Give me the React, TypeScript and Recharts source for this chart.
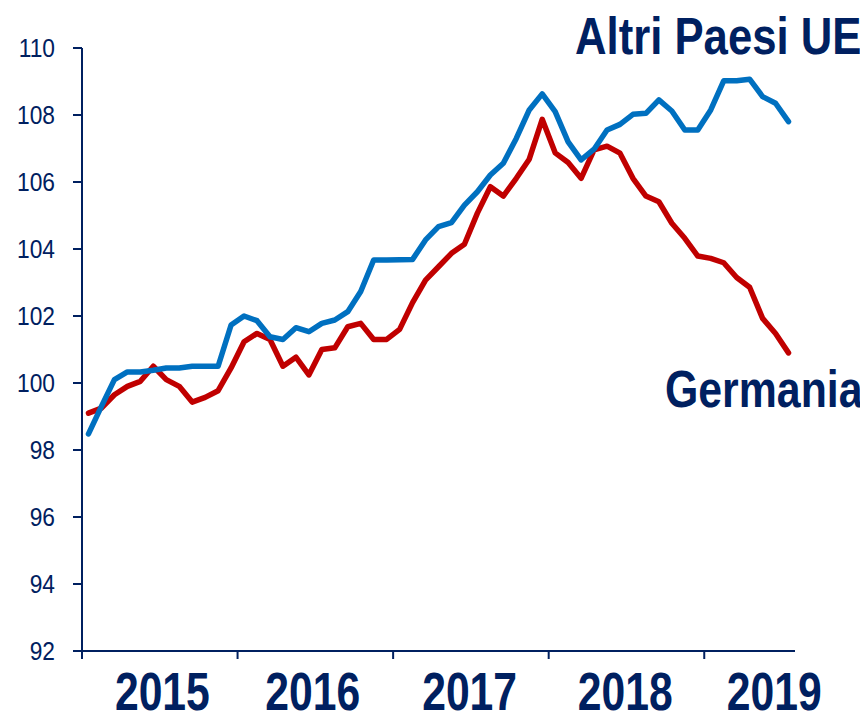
import React from "react";
import { LineChart, Line, XAxis, YAxis } from "recharts";

const months: string[] = [
  "2015-01","2015-02","2015-03","2015-04","2015-05","2015-06","2015-07","2015-08","2015-09","2015-10","2015-11","2015-12",
  "2016-01","2016-02","2016-03","2016-04","2016-05","2016-06","2016-07","2016-08","2016-09","2016-10","2016-11","2016-12",
  "2017-01","2017-02","2017-03","2017-04","2017-05","2017-06","2017-07","2017-08","2017-09","2017-10","2017-11","2017-12",
  "2018-01","2018-02","2018-03","2018-04","2018-05","2018-06","2018-07","2018-08","2018-09","2018-10","2018-11","2018-12",
  "2019-01","2019-02","2019-03","2019-04","2019-05","2019-06","2019-07",
];

const altriPaesiUE: number[] = [
  98.48, 99.3, 100.1, 100.33, 100.33, 100.38, 100.45, 100.45, 100.5, 100.5, 100.5, 101.73,
  102.0, 101.86, 101.38, 101.3, 101.65, 101.53, 101.78, 101.88, 102.13, 102.73, 103.67, 103.67,
  103.68, 103.69, 104.27, 104.67, 104.79, 105.31, 105.71, 106.21, 106.56, 107.3, 108.15, 108.63,
  108.1, 107.2, 106.66, 106.98, 107.55, 107.72, 108.02, 108.05, 108.45, 108.12, 107.55, 107.55,
  108.15, 109.02, 109.02, 109.07, 108.55, 108.35, 107.8,
];

const germania: number[] = [
  99.1, 99.25, 99.65, 99.9, 100.05, 100.5, 100.1, 99.9, 99.43, 99.57, 99.77, 100.45,
  101.23, 101.48, 101.3, 100.5, 100.77, 100.24, 101.0, 101.05, 101.68, 101.78, 101.3, 101.3,
  101.6, 102.4, 103.07, 103.47, 103.87, 104.14, 105.07, 105.86, 105.58, 106.11, 106.68, 107.87,
  106.87, 106.58, 106.11, 106.96, 107.07, 106.86, 106.11, 105.58, 105.41, 104.77, 104.32, 103.79,
  103.72, 103.59, 103.15, 102.86, 101.93, 101.48, 100.9,
];

const yTicks: number[] = [92, 94, 96, 98, 100, 102, 104, 106, 108, 110];
const yearBoundaries: number[] = [0, 12, 24, 36, 48];
const yearLabels: string[] = ["2015", "2016", "2017", "2018", "2019"];
const yearLabelPositions: number[] = [6.2, 17.8, 29.9, 41.9, 53.4];

const NAVY = "#002060";
const BLUE = "#0070C0";
const RED = "#C00000";

const data = months.map((m, i) => ({
  month: m,
  x: i + 0.5,
  altri: altriPaesiUE[i],
  germania: germania[i],
}));

const YTick = (props: any) => {
  const { x, y, payload } = props;
  return (
    <text
      transform={`translate(${x},${y}) scale(0.91,1)`}
      textAnchor="end"
      dy="0.36em"
      fill={NAVY}
      fontSize={25}
      fontFamily="'Liberation Sans', Arial, sans-serif"
    >
      {payload.value}
    </text>
  );
};

const EmptyTick = () => <g />;

const YearTick = (props: any) => {
  const { x, y, payload } = props;
  const idx = yearLabelPositions.indexOf(payload.value);
  return (
    <text
      transform={`translate(${x},${y + 51}) scale(0.79,1)`}
      textAnchor="middle"
      fill={NAVY}
      fontSize={54}
      fontWeight="bold"
      fontFamily="'Liberation Sans', Arial, sans-serif"
    >
      {yearLabels[idx]}
    </text>
  );
};

export default function App() {
  return (
    <div style={{ position: "relative", width: 852, height: 707 }}>
      <LineChart
        width={852}
        height={707}
        data={data}
        margin={{ top: 40, right: 65, left: 0, bottom: 0 }}
      >
        <XAxis
          xAxisId="a"
          dataKey="x"
          type="number"
          domain={[0, 55]}
          ticks={yearBoundaries}
          interval={0}
          tick={<EmptyTick />}
          tickSize={8}
          height={8}
          axisLine={{ stroke: NAVY, strokeWidth: 2 }}
          tickLine={{ stroke: NAVY, strokeWidth: 2 }}
          allowDataOverflow
        />
        <XAxis
          xAxisId="b"
          dataKey="x"
          type="number"
          domain={[0, 55]}
          ticks={yearLabelPositions}
          interval={0}
          tick={<YearTick />}
          tickSize={0}
          tickMargin={0}
          height={56}
          axisLine={false}
          tickLine={false}
          allowDataOverflow
        />
        <YAxis
          domain={[92, 110]}
          ticks={yTicks}
          interval={0}
          width={74}
          tickSize={9}
          tickMargin={18}
          tick={<YTick />}
          axisLine={{ stroke: NAVY, strokeWidth: 2 }}
          tickLine={{ stroke: NAVY, strokeWidth: 2 }}
        />
        <Line
          xAxisId="a"
          type="linear"
          dataKey="germania"
          stroke={RED}
          strokeWidth={5.5}
          strokeLinecap="round"
          strokeLinejoin="round"
          dot={false}
          isAnimationActive={false}
        />
        <Line
          xAxisId="a"
          type="linear"
          dataKey="altri"
          stroke={BLUE}
          strokeWidth={5.5}
          strokeLinecap="round"
          strokeLinejoin="round"
          dot={false}
          isAnimationActive={false}
        />
      </LineChart>
      <svg
        width={860}
        height={707}
        overflow="visible"
        style={{ position: "absolute", left: 0, top: 0, pointerEvents: "none", overflow: "visible" }}
      >
        <text
          transform="translate(567,46.3) scale(0.84,1)"
          fill={NAVY}
          fontSize={52}
          fontWeight="bold"
          fontFamily="'Liberation Sans', Arial, sans-serif"
        >
          Altri Paesi UE
        </text>
        <text
          transform="translate(657,398.7) scale(0.84,1)"
          fill={NAVY}
          fontSize={51}
          fontWeight="bold"
          fontFamily="'Liberation Sans', Arial, sans-serif"
        >
          Germania
        </text>
      </svg>
    </div>
  );
}
